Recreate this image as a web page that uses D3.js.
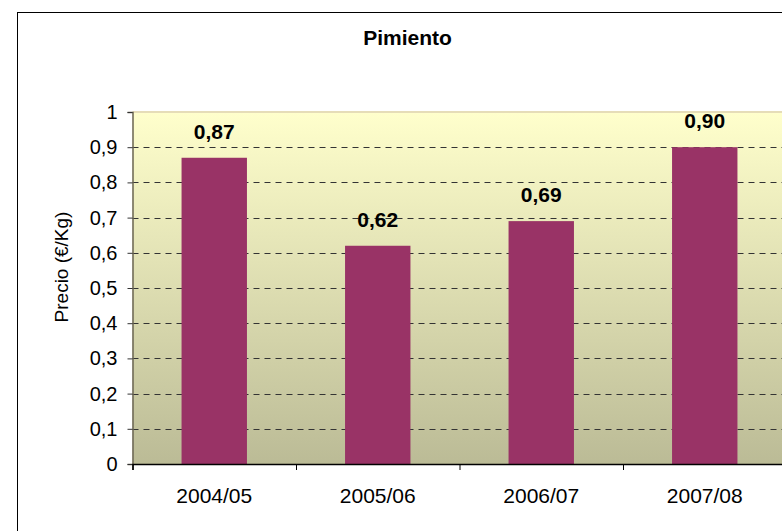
<!DOCTYPE html>
<html>
<head>
<meta charset="utf-8">
<script src="https://cdn.jsdelivr.net/npm/d3@7"></script>
<style>
  html, body { margin: 0; padding: 0; background: #ffffff; }
  svg { display: block; font-family: Arial, "Liberation Sans", sans-serif; }
</style>
</head>
<body>
<svg id="chart" width="782" height="531"></svg>
<script>
const title = "Pimiento";
const yAxisTitle = "Precio (€/Kg)";
const categories = ["2004/05", "2005/06", "2006/07", "2007/08"];
const values = [0.87, 0.62, 0.69, 0.90];
const valueLabels = ["0,87", "0,62", "0,69", "0,90"];
const yTicks = [0, 0.1, 0.2, 0.3, 0.4, 0.5, 0.6, 0.7, 0.8, 0.9, 1];
const yTickLabels = ["0", "0,1", "0,2", "0,3", "0,4", "0,5", "0,6", "0,7", "0,8", "0,9", "1"];

const svg = d3.select("#chart");
const plot = { left: 132.5, top: 112, right: 786.5, bottom: 464 };

// outer chart border (extends beyond the window on right/bottom)
svg.append("rect")
  .attr("x", 17.5).attr("y", 12.5)
  .attr("width", 820).attr("height", 560)
  .attr("fill", "#ffffff").attr("stroke", "#000").attr("stroke-width", 1);

const defs = svg.append("defs");
const grad = defs.append("linearGradient").attr("id", "bg")
  .attr("x1", 0).attr("y1", 0).attr("x2", 0).attr("y2", 1);
grad.append("stop").attr("offset", "0%").attr("stop-color", "#FFFFCC");
grad.append("stop").attr("offset", "100%").attr("stop-color", "#BBBB96");

const y = d3.scaleLinear().domain([0, 1]).range([plot.bottom, plot.top]);
const x = d3.scaleBand().domain(categories)
  .range([plot.left, plot.right]).paddingInner(0.6).paddingOuter(0.3);
const xIdx = d3.scaleLinear().domain([0, categories.length]).range([plot.left, plot.right]);

// plot background
svg.append("rect")
  .attr("x", plot.left).attr("y", plot.top)
  .attr("width", plot.right - plot.left).attr("height", plot.bottom - plot.top)
  .attr("fill", "url(#bg)");
// top border line of plot area
svg.append("line")
  .attr("x1", plot.left).attr("x2", plot.right)
  .attr("y1", plot.top).attr("y2", plot.top)
  .attr("stroke", "#E6DDB8").attr("stroke-width", 2);

// gridlines
svg.append("g").selectAll("line")
  .data(yTicks.filter(t => t > 0 && t < 1))
  .join("line")
  .attr("x1", plot.left).attr("x2", plot.right)
  .attr("y1", d => Math.round(y(d)) + 0.5).attr("y2", d => Math.round(y(d)) + 0.5)
  .attr("stroke", "#333").attr("stroke-width", 1)
  .attr("stroke-dasharray", "6,5");

// bars
svg.append("g").selectAll("rect")
  .data(values)
  .join("rect")
  .attr("x", (d, i) => x(categories[i]))
  .attr("width", x.bandwidth())
  .attr("y", d => y(d))
  .attr("height", d => y(0) - y(d))
  .attr("fill", "#993366");

// value labels
svg.append("g").selectAll("text")
  .data(values)
  .join("text")
  .attr("x", (d, i) => x(categories[i]) + x.bandwidth() / 2)
  .attr("y", d => y(d) - 19)
  .attr("text-anchor", "middle")
  .attr("font-size", 21).attr("font-weight", "bold").attr("fill", "#000")
  .text((d, i) => valueLabels[i]);

// y axis
const yAxis = svg.append("g")
  .attr("transform", `translate(${plot.left},0)`)
  .call(d3.axisLeft(y).tickValues(yTicks).tickSize(5).tickPadding(10)
    .tickFormat((d, i) => yTickLabels[i]));
yAxis.select(".domain").attr("stroke", "#6B6654").attr("stroke-width", 1.5);
yAxis.selectAll(".tick line").attr("stroke", "#333");
yAxis.selectAll("text").attr("font-size", 20).attr("fill", "#000")
  .attr("font-family", "Arial, 'Liberation Sans', sans-serif");

// x axis
const xAxis = svg.append("g")
  .attr("transform", `translate(0,${plot.bottom})`)
  .call(d3.axisBottom(xIdx).tickValues(d3.range(categories.length + 1)).tickSize(6).tickFormat(""));
xAxis.select(".domain").attr("stroke", "#000").attr("stroke-width", 1.5);
xAxis.selectAll(".tick line").attr("stroke", "#000");

svg.append("g").selectAll("text")
  .data(categories)
  .join("text")
  .attr("x", d => x(d) + x.bandwidth() / 2)
  .attr("y", 503)
  .attr("text-anchor", "middle")
  .attr("font-size", 21).attr("fill", "#000")
  .text(d => d);

// y axis title
svg.append("text")
  .attr("transform", `translate(68,267) rotate(-90)`)
  .attr("text-anchor", "middle")
  .attr("font-size", 19).attr("fill", "#000")
  .text(yAxisTitle);

// chart title
svg.append("text")
  .attr("x", 407.5).attr("y", 45)
  .attr("text-anchor", "middle")
  .attr("font-size", 21).attr("font-weight", "bold").attr("fill", "#000")
  .text(title);
</script>
</body>
</html>
